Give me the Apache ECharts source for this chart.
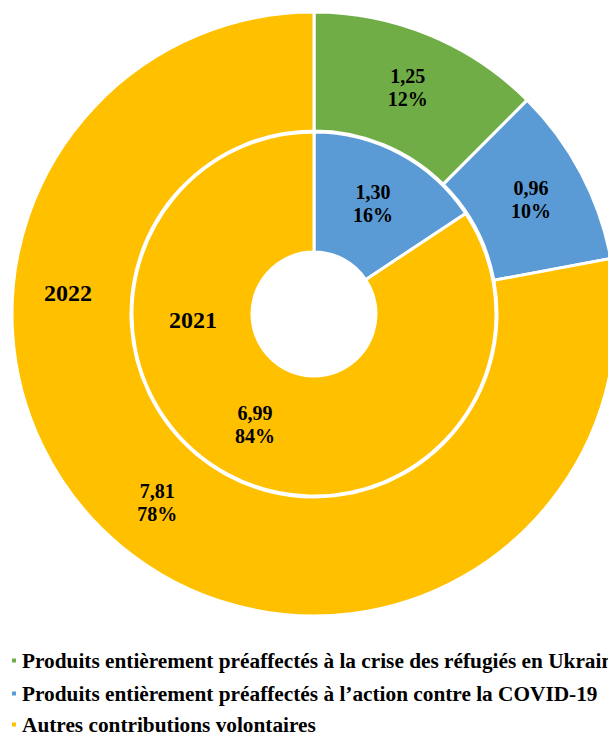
<!DOCTYPE html>
<html>
<head>
<meta charset="utf-8">
<script src="https://cdn.jsdelivr.net/npm/echarts@6/dist/echarts.min.js"></script>
<style>
  html, body { margin: 0; padding: 0; background: #fff; }
  #chart { width: 608px; height: 735px; }
</style>
</head>
<body>
<div id="chart"></div>
<script>
// Contribution categories (legend order)
const categories = [
  'Produits entièrement préaffectés à la crise des réfugiés en Ukraine',
  'Produits entièrement préaffectés à l’action contre la COVID-19',
  'Autres contributions volontaires'
];
const categoryColors = ['#70AD47', '#5B9BD5', '#FFC000'];

// Amounts per year, same order as categories
const values2022 = [1.25, 0.96, 7.81];
const values2021 = [0, 1.30, 6.99];
const years = ['2022', '2021'];

const FONT = '"Liberation Serif", "Times New Roman", serif';

function buildData(values) {
  return values
    .map((v, i) => ({ name: categories[i], value: v, itemStyle: { color: categoryColors[i] } }))
    .filter(d => d.value > 0);
}

function labelText(p) {
  return p.value.toFixed(2).replace('.', ',') + '\n' + Math.round(p.percent) + '%';
}

const commonSeries = {
  type: 'pie',
  center: [314, 314],
  startAngle: 90,
  clockwise: true,
  avoidLabelOverlap: false,
  silent: true,
  itemStyle: { borderColor: '#ffffff', borderWidth: 3 },
  label: {
    show: true,
    position: 'inside',
    formatter: labelText,
    color: '#000',
    fontFamily: FONT,
    fontWeight: 'bold',
    fontSize: 20,
    lineHeight: 23
  },
  labelLine: { show: false },
  emphasis: { disabled: true }
};

// One legend row per category, stacked at the bottom-left
const legendTops = [645, 678, 709];
const legends = categories.map((name, i) => ({
  orient: 'vertical',
  left: 5,
  top: legendTops[i],
  icon: 'rect',
  itemWidth: 6,
  itemHeight: 6,
  selectedMode: false,
  data: [name],
  textStyle: {
    fontFamily: FONT,
    fontWeight: 'bold',
    fontSize: 21.3,
    lineHeight: 21,
    color: '#000'
  }
}));

const chart = echarts.init(document.getElementById('chart'), null, { renderer: 'svg' });
chart.setOption({
  animation: false,
  color: categoryColors,
  legend: legends,
  graphic: [
    { type: 'text', z: 100, left: 44, top: 281, style: { text: years[0], font: 'bold 24px ' + FONT, fill: '#000' } },
    { type: 'text', z: 100, left: 169, top: 308, style: { text: years[1], font: 'bold 24px ' + FONT, fill: '#000' } }
  ],
  series: [
    Object.assign({}, commonSeries, { name: years[0], radius: [183, 302], data: buildData(values2022) }),
    Object.assign({}, commonSeries, { name: years[1], radius: [62, 182], data: buildData(values2021) })
  ]
});
</script>
</body>
</html>
